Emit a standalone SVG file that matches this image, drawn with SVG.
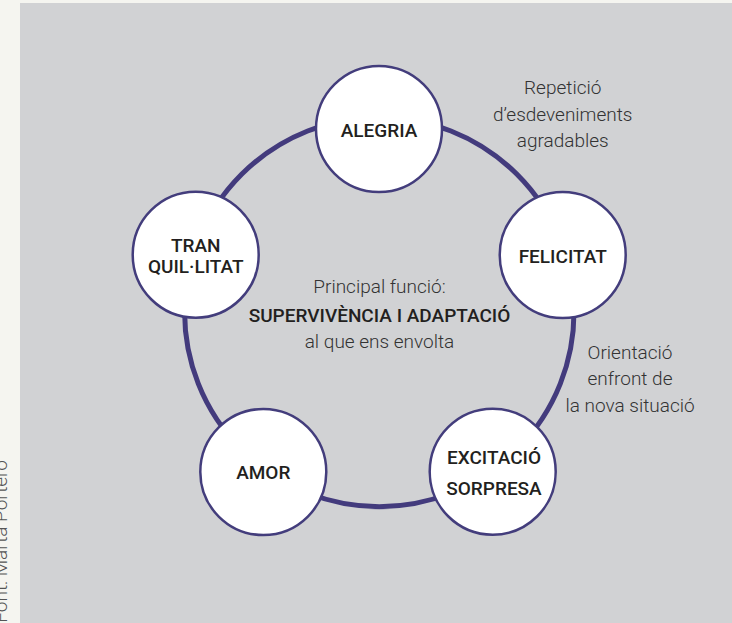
<svg xmlns="http://www.w3.org/2000/svg" width="732" height="623" viewBox="0 0 732 623">
  <style>
    .node circle { fill: #ffffff; stroke: #433d7c; stroke-width: 2.5; }
    .lbl { font-family: Roboto, "Liberation Sans", sans-serif; font-size: 19px; font-weight: 500; fill: #231f20; text-anchor: middle; }
    .body { font-family: Roboto, "Liberation Sans", sans-serif; font-size: 19px; font-weight: 300; fill: #333333; text-anchor: middle; }
    .ring { fill: none; stroke: #433b7d; stroke-width: 5; }
  </style>
  <rect x="0" y="0" width="732" height="623" fill="#f5f5f0"/>
  <rect x="20" y="3" width="712" height="620" fill="#d1d2d4"/>
  <text transform="translate(7,460) rotate(-90)" font-family="Roboto, 'Liberation Sans', sans-serif" font-size="19" font-weight="300" fill="#555555" text-anchor="end">Font: Marta Portero</text>

  <g id="connectors">
    <circle class="ring" cx="379.3" cy="312" r="194.7"/>
  </g>

  <g id="alegria" class="node">
    <circle cx="379" cy="129" r="63"/>
    <text class="lbl" x="379" y="136.5">ALEGRIA</text>
  </g>
  <g id="felicitat" class="node">
    <circle cx="562.7" cy="255" r="63"/>
    <text class="lbl" x="562.7" y="263.3">FELICITAT</text>
  </g>
  <g id="excitacio" class="node">
    <circle cx="492.7" cy="471.7" r="63"/>
    <text class="lbl" x="494" y="463.7">EXCITACIÓ</text>
    <text class="lbl" x="494" y="495.3">SORPRESA</text>
  </g>
  <g id="amor" class="node">
    <circle cx="263.3" cy="472" r="63"/>
    <text class="lbl" x="263.3" y="479.3">AMOR</text>
  </g>
  <g id="tranquilitat" class="node">
    <circle cx="195.7" cy="254.7" r="63"/>
    <text class="lbl" x="195.7" y="251.7">TRAN</text>
    <text class="lbl" x="195.7" y="273.3">QUIL·LITAT</text>
  </g>

  <g id="center-text">
    <text class="body" x="379.5" y="293.3">Principal funció:</text>
    <text class="lbl" x="379.5" y="321.7">SUPERVIVÈNCIA I ADAPTACIÓ</text>
    <text class="body" x="379.5" y="348.3">al que ens envolta</text>
  </g>
  <g id="note-repeticio">
    <text class="body" x="562.7" y="94">Repetició</text>
    <text class="body" x="562.7" y="120.5">d’esdeveniments</text>
    <text class="body" x="562.7" y="146.5">agradables</text>
  </g>
  <g id="note-orientacio">
    <text class="body" x="630" y="358.7">Orientació</text>
    <text class="body" x="630" y="385.3">enfront de</text>
    <text class="body" x="630" y="412">la nova situació</text>
  </g>
</svg>
